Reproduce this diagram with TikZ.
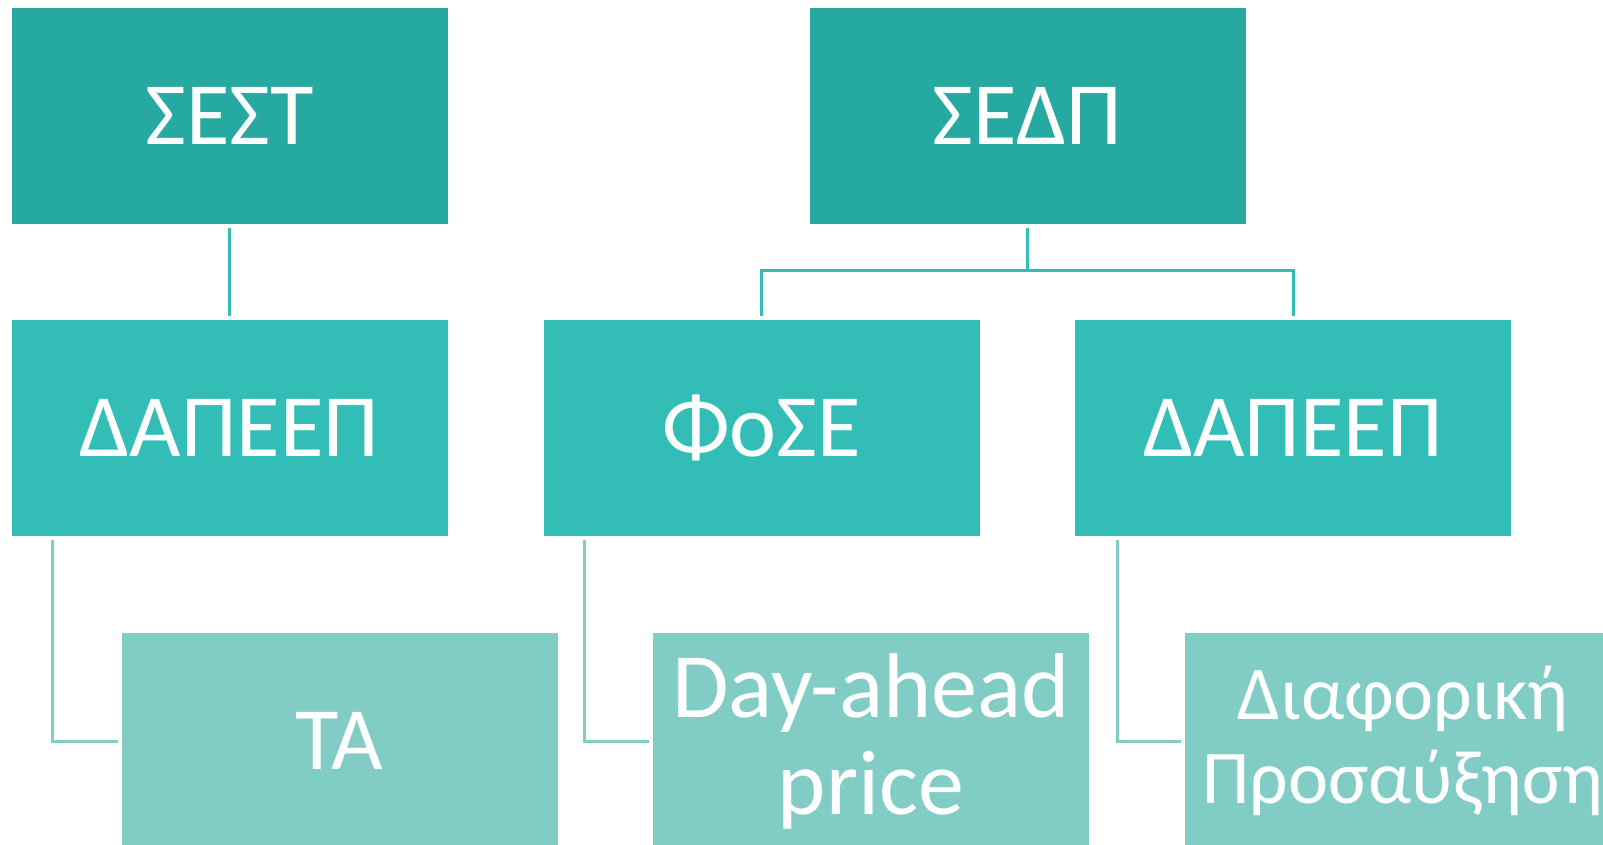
\documentclass[tikz,border=0pt]{standalone}
\usepackage{fontspec}
\setmainfont{Carlito}

\definecolor{level1}{HTML}{26A9A1}
\definecolor{level2}{HTML}{33BDB7}
\definecolor{level3}{HTML}{82CCC6}
\tikzstyle{level-box}=[rectangle, inner sep=0pt, outer sep=0pt, minimum width=218pt, minimum height=108pt, text=white, align=center, font=\fontsize{44.5}{47.5}\selectfont]
\tikzstyle{level-link}=[line width=1.5pt, shorten <=2pt, shorten >=2pt]

\begin{document}
\begin{tikzpicture}[x=0.5pt, y=-0.5pt]
      \useasboundingbox (0,0) rectangle (1603,845);
      \node (sest) at (229.5, 116) [level-box, fill={level1}] {ΣΕΣΤ};
      \node (sedp) at (1027.5, 116) [level-box, fill={level1}] {ΣΕΔΠ};
      \node (dapeep1) at (229.5, 428) [level-box, fill={level2}] {ΔΑΠΕΕΠ};
      \node (fose) at (761.5, 428) [level-box, fill={level2}] {ΦοΣΕ};
      \node (dapeep2) at (1293, 428) [level-box, fill={level2}] {ΔΑΠΕΕΠ};
      \node (ta) at (339.5, 741) [level-box, fill={level3}] {ΤΑ};
      \node (dayahead) at (871, 741) [level-box, fill={level3},
            font=\fontsize{46}{48.5}\selectfont] {Day-ahead\\price};
      \node (diaf) at (1403, 741) [level-box, fill={level3},
            font=\fontsize{38}{42}\selectfont] {Διαφορική\\Προσαύξηση};
      % connectors
      \draw[level-link, level2] (sest) -- (dapeep1);
      \draw[level-link, level2] (sedp.south) -- ++(0,47) -| (fose.north);
      \draw[level-link, level2] (sedp.south) -- ++(0,47) -| (dapeep2.north);
      \draw[level-link, level3] ([xshift=20.5pt]dapeep1.south west) |- (ta.west);
      \draw[level-link, level3] ([xshift=20.5pt]fose.south west) |- (dayahead.west);
      \draw[level-link, level3] ([xshift=21pt]dapeep2.south west) |- (diaf.west);
    \end{tikzpicture}
\end{document}
